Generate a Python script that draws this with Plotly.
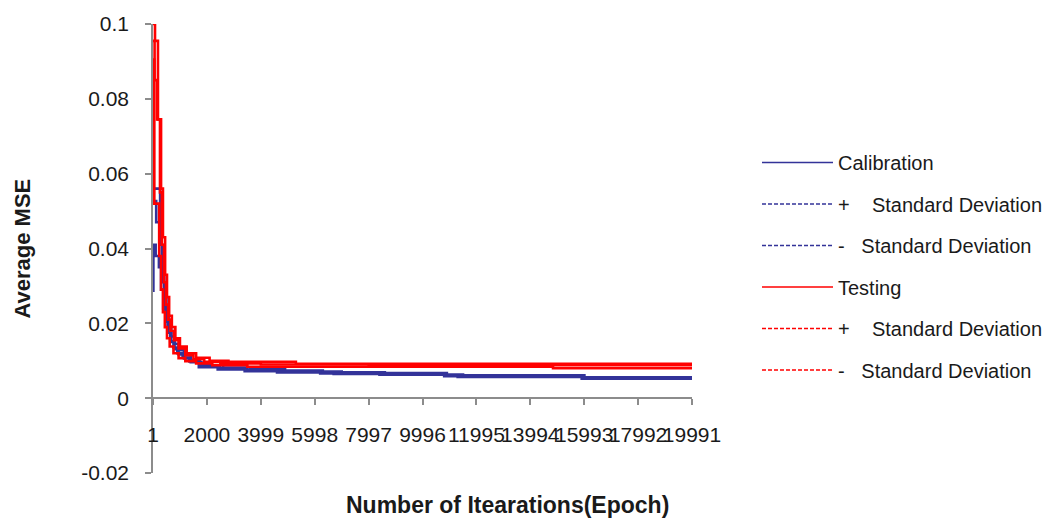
import plotly.graph_objects as go

# ---- x axis (epoch) tick positions ----
epoch_ticks = [1, 2000, 3999, 5998, 7997, 9996, 11995, 13994, 15993, 17992, 19991]

# ---- y axis ticks ----
mse_ticks = [-0.02, 0, 0.02, 0.04, 0.06, 0.08, 0.1]
mse_tick_text = ["-0.02", "0", "0.02", "0.04", "0.06", "0.08", "0.1"]

# ---- Calibration: average MSE and +/- one standard deviation (step breakpoints) ----
cal_mean_epoch = [1, 25, 120, 260, 340, 420, 500, 580, 680, 800, 950, 1150, 1400, 1744,
                  2486, 3488, 4712, 6269, 6826, 8495, 10832, 11388, 15951, 19991]
cal_mean = [0.0587, 0.0527, 0.047, 0.041, 0.033, 0.027, 0.0225, 0.019, 0.0165, 0.0145,
            0.0128, 0.0114, 0.0102, 0.0086, 0.0080, 0.0075, 0.0072, 0.0069, 0.0067,
            0.0065, 0.0061, 0.0059, 0.0054, 0.0054]

cal_hi_epoch = [1, 20, 265, 330, 420, 500, 580, 680, 800, 950, 1150, 1400, 1800,
                2600, 3600, 4900, 6300, 7000, 8600, 10900, 11500, 16000, 19991]
cal_hi = [0.0886, 0.056, 0.041, 0.031, 0.0245, 0.0205, 0.0175, 0.015, 0.0131, 0.0117,
          0.0106, 0.0096, 0.0088, 0.0082, 0.0077, 0.0074, 0.0071, 0.0069, 0.0067,
          0.0063, 0.0061, 0.0056, 0.0056]

cal_lo_epoch = [1, 15, 100, 220, 300, 380, 460, 540, 640, 760, 900, 1100, 1350, 1700,
                2400, 3400, 4600, 6200, 6700, 8400, 10800, 11300, 15900, 19991]
cal_lo = [0.0287, 0.041, 0.038, 0.035, 0.029, 0.024, 0.0205, 0.0175, 0.0152, 0.0135,
          0.012, 0.0108, 0.0098, 0.0083, 0.0077, 0.0072, 0.0069, 0.0066, 0.0065,
          0.0063, 0.0059, 0.0057, 0.0052, 0.0052]

# ---- Testing: average MSE and +/- one standard deviation (step breakpoints) ----
test_mean_epoch = [1, 60, 150, 260, 330, 410, 480, 560, 650, 780, 950, 1200, 1500, 1900,
                   2500, 4000, 8000, 19991]
test_mean = [0.0955, 0.085, 0.0745, 0.055, 0.041, 0.031, 0.025, 0.021, 0.018, 0.0155,
             0.0133, 0.0115, 0.0104, 0.0097, 0.0093, 0.0090, 0.0088, 0.0088]

test_hi_epoch = [1, 75, 185, 300, 370, 450, 520, 600, 700, 830, 1000, 1250, 1600, 2100,
                 2800, 5300, 19991]
test_hi = [0.100, 0.0955, 0.0745, 0.056, 0.043, 0.033, 0.027, 0.022, 0.019, 0.016,
           0.0138, 0.012, 0.0108, 0.0100, 0.0097, 0.0092, 0.0092]

test_lo_epoch = [1, 50, 230, 300, 370, 440, 520, 620, 760, 950, 1200, 1600, 2200, 3500,
                 14837, 19991]
test_lo = [0.0905, 0.052, 0.038, 0.029, 0.023, 0.019, 0.016, 0.0138, 0.012, 0.0107,
           0.0099, 0.0093, 0.0088, 0.0084, 0.0080, 0.0080]

BLUE = "#333399"
RED = "#FF0000"
AXIS = "#8C8C8C"
TEXT = "#1A1A1A"
FONT = "Liberation Sans, Arial, sans-serif"
NB = "\u00a0"

W, H = 1050, 521
M_L, M_R, M_T, M_B = 153, 358, 22, 48
PLOT_W = W - M_L - M_R
PLOT_H = H - M_T - M_B

series = [
    ("cal", "Calibration", cal_mean_epoch, cal_mean, BLUE, "solid"),
    ("cal_hi", "+" + NB * 4 + "Standard Deviation", cal_hi_epoch, cal_hi, BLUE, "dash"),
    ("cal_lo", "-" + NB * 3 + "Standard Deviation", cal_lo_epoch, cal_lo, BLUE, "dash"),
    ("test", "Testing", test_mean_epoch, test_mean, RED, "solid"),
    ("test_hi", "+" + NB * 4 + "Standard Deviation", test_hi_epoch, test_hi, RED, "dash"),
    ("test_lo", "-" + NB * 3 + "Standard Deviation", test_lo_epoch, test_lo, RED, "dash"),
]

fig = go.Figure()

# Dense per-epoch series render as continuous strokes, so the curves are drawn solid
for key, name, xs, ys, color, dash in series:
    fig.add_trace(go.Scatter(
        x=xs, y=ys, mode="lines", name=name, legendgroup=key, showlegend=False,
        line=dict(color=color, width=2.6, shape="hv"),
        hoverinfo="x+y+name",
    ))

# Legend keys carry the series line styles
for key, name, xs, ys, color, dash in series:
    fig.add_trace(go.Scatter(
        x=[None], y=[None], mode="lines", name=name, legendgroup=key, showlegend=True,
        line=dict(color=color, width=1.3, dash="4px,2px" if dash == "dash" else "solid"),
    ))

fig.update_layout(
    width=W, height=H,
    margin=dict(l=M_L, r=M_R, t=M_T, b=M_B),
    paper_bgcolor="white", plot_bgcolor="white",
    font=dict(family=FONT, size=20, color=TEXT),
    showlegend=True,
    legend=dict(
        xref="container", yref="container",
        x=757 / W, y=1 - 143 / H, xanchor="left", yanchor="top",
        font=dict(family=FONT, size=20, color=TEXT),
        tracegroupgap=12.5, itemwidth=71, maxheight=0.95,
        bgcolor="rgba(0,0,0,0)",
    ),
    xaxis=dict(
        range=[1, 19991], anchor="free", position=0.02 / 0.12,
        showline=True, linecolor=AXIS, linewidth=1.5,
        ticks="outside", ticklen=6, tickcolor=AXIS, tickwidth=1.5,
        tickvals=epoch_ticks, ticktext=[str(v) for v in epoch_ticks],
        tickfont=dict(family=FONT, size=21, color=TEXT),
        tickangle=0, ticklabelstandoff=12,
        showgrid=False, zeroline=False,
    ),
    yaxis=dict(
        range=[-0.02, 0.1],
        showline=True, linecolor=AXIS, linewidth=1.5,
        ticks="outside", ticklen=6, tickcolor=AXIS, tickwidth=1.5,
        tickvals=mse_ticks, ticktext=mse_tick_text,
        tickfont=dict(family=FONT, size=21, color=TEXT),
        ticklabelstandoff=12,
        showgrid=False, zeroline=False,
    ),
    annotations=[
        dict(text="<b>Number of Itearations(Epoch)</b>", xref="paper", yref="paper",
             x=(507 - M_L) / PLOT_W, y=(H - M_B - 505) / PLOT_H,
             xanchor="center", yanchor="middle",
             showarrow=False, font=dict(family=FONT, size=23, color=TEXT)),
        dict(text="<b>Average MSE</b>", xref="paper", yref="paper",
             x=(22 - M_L) / PLOT_W, y=0.5, xanchor="center", yanchor="middle", textangle=-90,
             showarrow=False, font=dict(family=FONT, size=22, color=TEXT)),
    ],
)

fig.write_html("out.html")
